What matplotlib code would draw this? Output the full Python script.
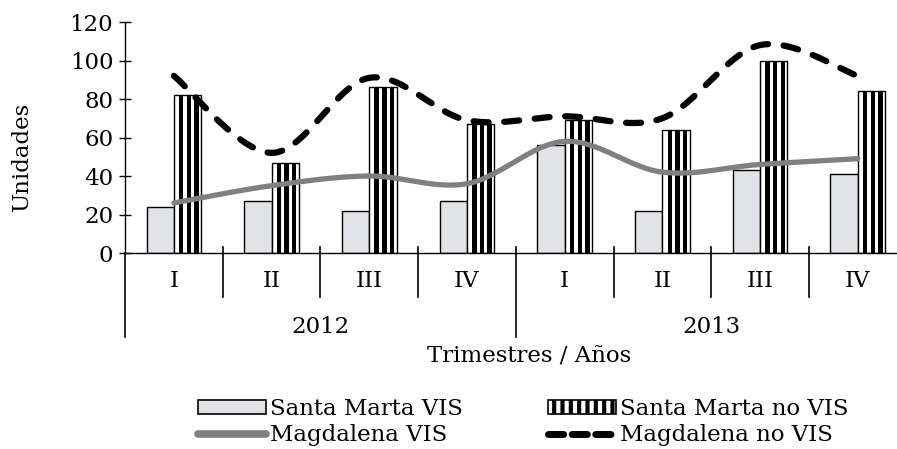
import matplotlib; matplotlib.use("Agg")
import matplotlib.pyplot as plt
import numpy as np
from matplotlib.patches import Patch
from matplotlib.lines import Line2D

quarters = ["I", "II", "III", "IV", "I", "II", "III", "IV"]
years = ["2012", "2013"]
sm_vis = [24, 27, 22, 27, 56, 22, 43, 41]
sm_novis = [82, 47, 86, 67, 69, 64, 100, 84]
mag_vis = [26, 35, 40, 36, 58, 42, 46, 49]
mag_novis = [92, 52, 91, 69, 71, 70, 108, 92]

plt.rcParams["font.family"] = "DejaVu Serif"
plt.rcParams["hatch.linewidth"] = 3.0
FS = 16.5

def smooth(y, n=30):
    # excel-like smoothed line (catmull-rom as cubic bezier)
    y = np.asarray(y, float); x = np.arange(len(y), dtype=float)
    P = np.column_stack([x, y])
    out = []
    for i in range(len(P) - 1):
        p0 = P[max(i - 1, 0)]; p1 = P[i]; p2 = P[i + 1]; p3 = P[min(i + 2, len(P) - 1)]
        c1 = p1 + (p2 - p0) / 6; c2 = p2 - (p3 - p1) / 6
        t = np.linspace(0, 1, n)[:, None]
        seg = (1-t)**3*p1 + 3*(1-t)**2*t*c1 + 3*(1-t)*t**2*c2 + t**3*p2
        out.append(seg if i == 0 else seg[1:])
    s = np.vstack(out)
    return s[:, 0], s[:, 1]

fig = plt.figure(figsize=(8.97, 4.49), dpi=100)
ax = fig.add_axes([0.1394, 0.4365, 0.8713, 0.5145])
x = np.arange(len(quarters))
w = 0.28

ax.bar(x - w/2, sm_vis, w, color="#e2e3e7", edgecolor="black", lw=1, zorder=2)
ax.bar(x + w/2, sm_novis, w, color="white", edgecolor="black", lw=1, zorder=2)
# vertical black stripes inside the no-VIS bars
for k in (0.27, 0.55, 0.83):
    ax.bar(x + k * w, sm_novis, w * 0.16, color="black", lw=0, zorder=3)

gx, gy = smooth(mag_vis)
ax.plot(gx, gy, color="#808080", lw=3.8, solid_capstyle="round", zorder=4)
bx, by = smooth(mag_novis)
ax.plot(bx, by, color="black", lw=4.5, linestyle=(0, (2.4, 2.5)),
        dash_capstyle="round", zorder=5)

ax.set_xlim(-0.5, 7.5)
ax.set_ylim(0, 120)
ax.set_yticks(range(0, 121, 20))
ax.tick_params(axis="y", direction="inout", length=9, width=1, labelsize=FS, pad=4)
ax.set_xticks([])
for s in ("top", "right"):
    ax.spines[s].set_visible(False)
ax.spines["left"].set_linewidth(1)
ax.spines["bottom"].set_linewidth(1)
ax.set_ylabel("Unidades", fontsize=FS, va="center")
ax.yaxis.set_label_coords(-0.132, 0.42)

tr = ax.get_xaxis_transform()
for b in range(1, 8):
    bottom = -0.364 if b == 4 else -0.19
    ax.plot([b - 0.5, b - 0.5], [0.026, bottom], color="black", lw=1.2, transform=tr, clip_on=False)
ax.plot([-0.5, -0.5], [0, -0.364], color="black", lw=1.2, transform=tr, clip_on=False)
for i, q in enumerate(quarters):
    ax.text(i, -0.121, q, transform=tr, ha="center", va="center", fontsize=FS)
for j, yr in enumerate(years):
    ax.text(1.5 + 4 * j, -0.32, yr, transform=tr, ha="center", va="center", fontsize=FS)
ax.text(3.64, -0.446, "Trimestres / Años", transform=tr, ha="center", va="center", fontsize=FS)

handles = [
    Patch(facecolor="#e2e3e7", edgecolor="black", lw=1.2),
    Line2D([], [], color="#808080", lw=5.5, solid_capstyle="round"),
    Patch(facecolor="white", edgecolor="black", hatch="||", lw=1.2),
    Line2D([], [], color="black", lw=5, linestyle=(0, (2.2, 1.2)), dash_capstyle="round"),
]
labels = ["Santa Marta VIS", "Magdalena VIS", "Santa Marta no VIS", "Magdalena no VIS"]
leg = fig.legend(handles, labels, ncol=2, loc="center", bbox_to_anchor=(0.583, 0.06),
                 frameon=False, fontsize=FS, handlelength=3.0, handleheight=0.55,
                 handletextpad=0.15, columnspacing=3.7, labelspacing=0.18,
                 borderaxespad=0)

fig.savefig("out.png", dpi=100)
